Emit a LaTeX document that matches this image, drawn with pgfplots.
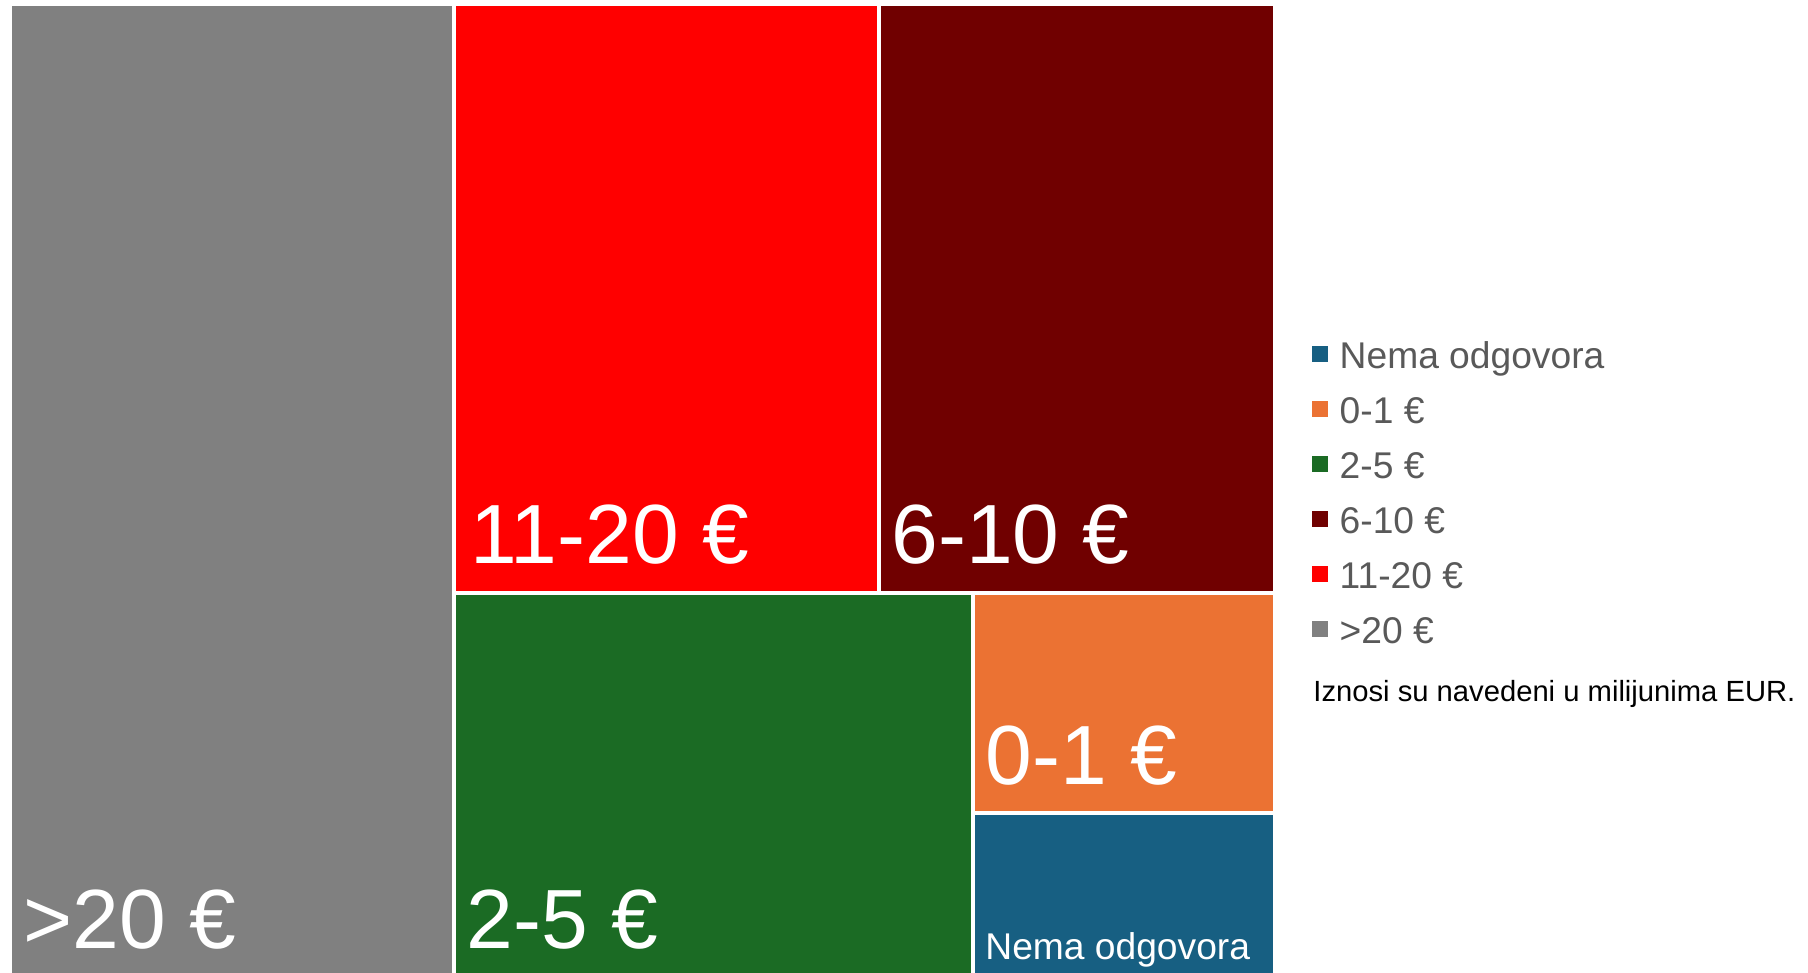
\documentclass[border=0pt]{standalone}
\usepackage{fontspec}
\setmainfont{Liberation Sans}
\usepackage{pgfplots}
\pgfplotsset{compat=1.18}
\definecolor{cblue}{RGB}{23,95,130}
\definecolor{corange}{RGB}{235,114,51}
\definecolor{cgreen}{RGB}{27,107,36}
\definecolor{cdark}{RGB}{112,0,0}
\definecolor{cred}{RGB}{255,0,0}
\definecolor{cgray}{RGB}{128,128,128}
\definecolor{legtext}{RGB}{89,89,89}
\newcommand{\bigf}{\fontsize{42pt}{50pt}\selectfont}
\begin{document}
\begin{tikzpicture}
\begin{axis}[
  width=904pt, height=486.5pt, scale only axis,
  xmin=0, xmax=1808, ymin=0, ymax=973, y dir=reverse,
  hide axis,
  area legend,
  legend image code/.code={\fill[#1,draw=none] (0pt,3.2pt) rectangle (8pt,11.2pt);},
  legend style={at={(axis cs:1311.7,341.3)}, anchor=north west, draw=none, fill=none,
    inner sep=0pt, outer sep=0pt, font=\fontsize{18.6pt}{22pt}\selectfont, text=legtext,
    row sep=10pt, /tikz/every odd column/.append style={column sep=6pt},
    cells={anchor=base west}, nodes={inner sep=0pt, text height=13.5pt, text depth=4pt}},
  every axis plot/.append style={draw=white, line width=2pt},
]
\addplot[fill=cblue] coordinates {(973,813) (1275,813) (1275,975) (973,975)} -- cycle;
\addlegendentry{Nema odgovora}
\addplot[fill=corange] coordinates {(973,592.5) (1275,592.5) (1275,813) (973,813)} -- cycle;
\addlegendentry{0-1 €}
\addplot[fill=cgreen] coordinates {(454.3,592.5) (973,592.5) (973,975) (454.3,975)} -- cycle;
\addlegendentry{2-5 €}
\addplot[fill=cdark] coordinates {(878.7,4) (1275,4) (1275,592.5) (878.7,592.5)} -- cycle;
\addlegendentry{6-10 €}
\addplot[fill=cred] coordinates {(454.3,4) (878.7,4) (878.7,592.5) (454.3,592.5)} -- cycle;
\addlegendentry{11-20 €}
\addplot[fill=cgray] coordinates {(10,4) (454.3,4) (454.3,975) (10,975)} -- cycle;
\addlegendentry{>20 €}

\node[anchor=base west, inner sep=0pt, text=white, font=\bigf] at (axis cs:23,948) {>20 €};
\node[anchor=base west, inner sep=0pt, text=white, font=\bigf] at (axis cs:466,948) {2-5 €};
\node[anchor=base west, inner sep=0pt, text=white, font=\bigf] at (axis cs:470,563) {11-20 €};
\node[anchor=base west, inner sep=0pt, text=white, font=\bigf] at (axis cs:891,563) {6-10 €};
\node[anchor=base west, inner sep=0pt, text=white, font=\bigf] at (axis cs:985,784) {0-1 €};
\node[anchor=base west, inner sep=0pt, text=white, font=\fontsize{18.6pt}{22pt}\selectfont] at (axis cs:985,959) {Nema odgovora};
\node[anchor=base west, inner sep=0pt, text=black, font=\fontsize{14.6pt}{17pt}\selectfont] at (axis cs:1313,701.7) {Iznosi su navedeni u milijunima EUR.};
\path[draw=none] (rel axis cs:0,0) rectangle (rel axis cs:1,1);
\end{axis}
\end{tikzpicture}
\end{document}
